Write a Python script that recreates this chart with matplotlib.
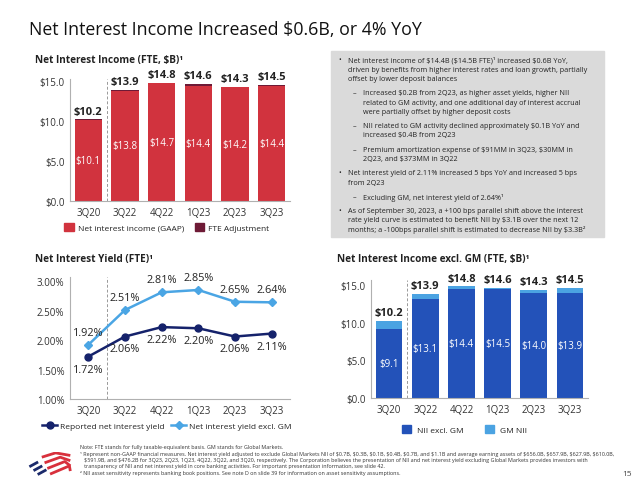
import matplotlib
matplotlib.use("Agg")
import matplotlib.pyplot as plt
from matplotlib.patches import Rectangle, Patch
from matplotlib.lines import Line2D

plt.rcParams["font.family"] = ["Open Sans", "DejaVu Sans"]
plt.rcParams["text.parse_math"] = False

W, H = 640, 489

quarters = ["3Q20", "3Q22", "4Q22", "1Q23", "2Q23", "3Q23"]

# Net interest income (FTE, $B)
nii_gaap = [10.1, 13.8, 14.7, 14.4, 14.2, 14.4]
nii_total = [10.2, 13.9, 14.8, 14.6, 14.3, 14.5]

# Net interest yield (%)
yield_reported = [1.72, 2.06, 2.22, 2.20, 2.06, 2.11]
yield_excl_gm = [1.92, 2.51, 2.81, 2.85, 2.65, 2.64]

# NII excl. GM ($B)
nii_excl_gm = [9.1, 13.1, 14.4, 14.5, 14.0, 13.9]
gm_nii = [1.1, 0.7, 0.4, 0.1, 0.3, 0.7]

RED = "#d1333e"
DARK_RED = "#6e1a36"
NAVY = "#15226b"
LIGHT_BLUE = "#4aa5e4"
BLUE = "#2352b9"
GM_BLUE = "#4ba3e2"
TEXT = "#222222"
TICK = "#333333"
SPINE = "#b0b0b0"


def fx(x):
    return x / W


def fy(y):
    return 1 - y / H


def add_axes(left, top, right, bottom):
    return fig.add_axes([fx(left), fy(bottom), fx(right) - fx(left), fy(top) - fy(bottom)])


def style_axes(ax):
    for side in ("top", "right"):
        ax.spines[side].set_visible(False)
    ax.spines["left"].set_color(SPINE)
    ax.spines["bottom"].set_color(SPINE)
    ax.spines["left"].set_linewidth(0.8)
    ax.spines["bottom"].set_linewidth(0.8)
    ax.tick_params(length=0, labelsize=7, colors=TICK, pad=4)
    ax.set_xlim(-0.5, len(quarters) - 0.5)
    ax.set_xticks(range(len(quarters)))
    ax.set_xticklabels(quarters)
    ax.axvline(0.5, color="#999999", linestyle=(0, (3, 2)), linewidth=0.7)


fig = plt.figure(figsize=(W / 100, H / 100), dpi=100)

fig.text(fx(29), fy(30), "Net Interest Income Increased $0.6B, or 4% YoY",
         fontsize=12.8, color="#111111", va="center", ha="left")

# --- chart 1: NII (FTE)
ax1 = add_axes(70, 80, 290, 202)
style_axes(ax1)
x = range(len(quarters))
fte_adj = [t - g for t, g in zip(nii_total, nii_gaap)]
ax1.bar(x, nii_gaap, width=0.74, color=RED)
ax1.bar(x, fte_adj, width=0.74, bottom=nii_gaap, color=DARK_RED)
ax1.set_ylim(0, 15.25)
ax1.set_yticks([0, 5, 10, 15])
ax1.set_yticklabels(["$0.0", "$5.0", "$10.0", "$15.0"])
for i in x:
    ax1.text(i, nii_gaap[i] / 2, f"${nii_gaap[i]:.1f}", ha="center", va="center",
             color="white", fontsize=7)
    ax1.annotate(f"${nii_total[i]:.1f}", (i, nii_total[i]), xytext=(0, 2),
                 textcoords="offset points", ha="center", va="bottom",
                 fontsize=8, fontweight="bold", color=TEXT)
fig.text(fx(35), fy(61), "Net Interest Income (FTE, $B)\u00b9", fontsize=7.2,
         fontweight="bold", color=TEXT, va="center")
ax1.legend(handles=[Patch(color=RED, label="Net interest income (GAAP)"),
                    Patch(color=DARK_RED, label="FTE Adjustment")],
           loc="center", bbox_to_anchor=(0.44, -0.215), ncol=2, frameon=False,
           fontsize=6.0, handlelength=1.1, handleheight=1.1, columnspacing=1.3,
           handletextpad=0.5, labelcolor=TEXT)

# --- chart 2: net interest yield
ax2 = add_axes(70, 278, 290, 400)
style_axes(ax2)
ax2.plot(x, yield_excl_gm, color=LIGHT_BLUE, linewidth=1.8, marker="D", markersize=4.5)
ax2.plot(x, yield_reported, color=NAVY, linewidth=1.8, marker="o", markersize=5)
ax2.set_ylim(1.0, 3.07)
ax2.set_yticks([1.0, 1.5, 2.0, 2.5, 3.0])
ax2.set_yticklabels(["1.00%", "1.50%", "2.00%", "2.50%", "3.00%"])
for i in x:
    ax2.annotate(f"{yield_excl_gm[i]:.2f}%", (i, yield_excl_gm[i]), xytext=(0, 5),
                 textcoords="offset points", ha="center", va="bottom", fontsize=7.8, color=TEXT)
    ax2.annotate(f"{yield_reported[i]:.2f}%", (i, yield_reported[i]), xytext=(0, -5),
                 textcoords="offset points", ha="center", va="top", fontsize=7.8, color=TEXT)
fig.text(fx(35), fy(260), "Net Interest Yield (FTE)\u00b9", fontsize=7.2,
         fontweight="bold", color=TEXT, va="center")
ax2.legend(handles=[Line2D([], [], color=NAVY, marker="o", markersize=5, linewidth=1.8,
                           label="Reported net interest yield"),
                    Line2D([], [], color=LIGHT_BLUE, marker="D", markersize=4.5, linewidth=1.8,
                           label="Net interest yield excl. GM")],
           loc="center", bbox_to_anchor=(0.44, -0.225), ncol=2, frameon=False,
           fontsize=6.0, handlelength=1.8, columnspacing=0.8, handletextpad=0.3,
           labelcolor=TEXT)

# --- chart 3: NII excl. GM
ax3 = add_axes(371, 281, 588, 399)
style_axes(ax3)
ax3.bar(x, nii_excl_gm, width=0.74, color=BLUE)
ax3.bar(x, gm_nii, width=0.74, bottom=nii_excl_gm, color=GM_BLUE)
ax3.set_ylim(0, 15.66)
ax3.set_yticks([0, 5, 10, 15])
ax3.set_yticklabels(["$0.0", "$5.0", "$10.0", "$15.0"])
for i in x:
    ax3.text(i, nii_excl_gm[i] / 2, f"${nii_excl_gm[i]:.1f}", ha="center", va="center",
             color="white", fontsize=7)
    ax3.annotate(f"${nii_total[i]:.1f}", (i, nii_excl_gm[i] + gm_nii[i]), xytext=(0, 2),
                 textcoords="offset points", ha="center", va="bottom",
                 fontsize=8, fontweight="bold", color=TEXT)
fig.text(fx(337), fy(260), "Net Interest Income excl. GM (FTE, $B)\u00b9", fontsize=7.2,
         fontweight="bold", color=TEXT, va="center")
ax3.legend(handles=[Patch(color=BLUE, label="NII excl. GM"),
                    Patch(color=GM_BLUE, label="GM NII")],
           loc="center", bbox_to_anchor=(0.43, -0.27), ncol=2, frameon=False,
           fontsize=6.0, handlelength=1.1, handleheight=1.1, columnspacing=2.6,
           handletextpad=0.7, labelcolor=TEXT)

# --- commentary box
fig.patches.append(Rectangle((fx(331), fy(238)), fx(604) - fx(331), fy(52) - fy(238),
                             transform=fig.transFigure, color="#dadada", zorder=0))
box_lines = [
    (0, 61, "Net interest income of $14.4B ($14.5B FTE)\u00b9 increased $0.6B YoY,"),
    (None, 70, "driven by benefits from higher interest rates and loan growth, partially"),
    (None, 79.5, "offset by lower deposit balances"),
    (1, 94, "Increased $0.2B from 2Q23, as higher asset yields, higher NII"),
    (None, 103.3, "related to GM activity, and one additional day of interest accrual"),
    (None, 112.7, "were partially offset by higher deposit costs"),
    (1, 126.7, "NII related to GM activity declined approximately $0.1B YoY and"),
    (None, 136, "increased $0.4B from 2Q23"),
    (1, 150.7, "Premium amortization expense of $91MM in 3Q23, $30MM in"),
    (None, 160, "2Q23, and $373MM in 3Q22"),
    (0, 174, "Net interest yield of 2.11% increased 5 bps YoY and increased 5 bps"),
    (None, 183.3, "from 2Q23"),
    (1, 197.7, "Excluding GM, net interest yield of 2.64%\u00b9"),
    (0, 211.7, "As of September 30, 2023, a +100 bps parallel shift above the interest"),
    (None, 221, "rate yield curve is estimated to benefit NII by $3.1B over the next 12"),
    (None, 230.5, "months; a -100bps parallel shift is estimated to decrease NII by $3.3B\u00b2"),
]
level = 0
for kind, y, line in box_lines:
    if kind is not None:
        level = kind
        marker_x = 338 if level == 0 else 353
        fig.text(fx(marker_x), fy(y), "\u2022" if level == 0 else "\u2013",
                 fontsize=5.2, color=TEXT, va="center")
    text_x = 348 if level == 0 else 363
    fig.text(fx(text_x), fy(y), line, fontsize=5.2, color=TEXT, va="center")

# --- footnotes
notes = [
    "Note: FTE stands for fully taxable-equivalent basis. GM stands for Global Markets.",
    "\u00b9 Represent non-GAAP financial measures. Net interest yield adjusted to exclude Global Markets NII of $0.7B, $0.3B, $0.1B, $0.4B, $0.7B, and $1.1B and average earning assets of $656.0B, $657.9B, $627.9B, $610.0B,",
    "   $591.9B, and $476.2B for 3Q23, 2Q23, 1Q23, 4Q22, 3Q22, and 3Q20, respectively. The Corporation believes the presentation of NII and net interest yield excluding Global Markets provides investors with",
    "   transparency of NII and net interest yield in core banking activities. For important presentation information, see slide 42.",
    "\u00b2 NII asset sensitivity represents banking book positions. See note D on slide 39 for information on asset sensitivity assumptions.",
]
fig.text(fx(80), fy(445.5), "\n".join(notes), fontsize=3.9, color="#333333",
         va="top", ha="left", linespacing=1.32)
fig.text(fx(622), fy(475), "15", fontsize=6, color="#444444", va="center")

# --- logo (simple flag stripes)
logo = fig.add_axes([fx(28), fy(479), fx(46), fy(453) - fy(479)])
logo.set_axis_off()
logo.set_xlim(0, 10)
logo.set_ylim(0, 6)
for k in range(3):
    logo.plot([0.3 + k * 0.9, 2.2 + k * 0.9], [2.6 - k * 0.9, 3.7 - k * 0.9],
              color="#1b2a6b", linewidth=2.0, solid_capstyle="butt")
for k in range(4):
    logo.plot([3.0 + k * 0.6, 6.0 + k * 1.0, 9.2], [4.8 - k * 1.3, 5.8 - k * 1.0, 5.2 - k * 1.2],
              color="#d8303c", linewidth=2.0, solid_capstyle="butt")

fig.savefig("out.png", dpi=100)
